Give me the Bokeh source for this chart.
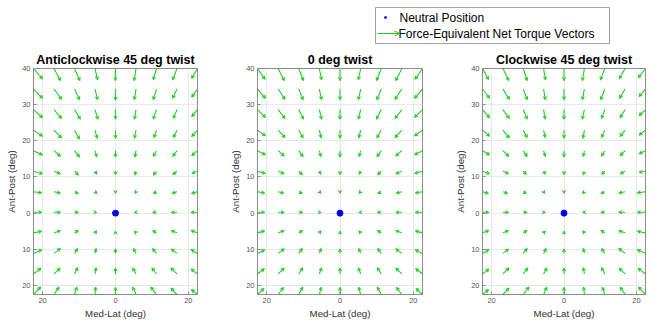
from bokeh.plotting import figure
from bokeh.models import (ColumnDataSource, Arrow, OpenHead, VeeHead, FixedTicker, Range1d, Title)
from bokeh.layouts import column, row
from bokeh.core.properties import value
from bokeh.embed import file_html
from bokeh.resources import INLINE

# ---------------- data ----------------
X_COLS = [-22.5, -16.875, -11.25, -5.625, 0.0, 5.625, 11.25, 16.875, 22.5]
Y_ROWS = [40.0, 34.32, 28.64, 22.95, 17.27, 11.59, 5.91, 0.23, -5.45, -11.14, -16.82, -22.5]

TITLES = ["Anticlockwise 45 deg twist", "0 deg twist", "Clockwise 45 deg twist"]

# vector components, rows top->bottom, cols left->right
U_ANTI = [
    [2.5, 1.8, 1.5, 0.7, 0, -0.5, -0.9, -1.2, -1.6],
    [2.5, 2.1, 1.4, 0.7, 0, -0.45, -0.9, -1.2, -1.6],
    [2.5, 2.1, 1.6, 0.8, 0, -0.4, -0.9, -1.0, -1.6],
    [2.5, 2.1, 1.4, 0.6, 0, -0.4, -0.7, -1.0, -1.6],
    [2.5, 1.8, 1.4, 0.5, 0, -0.3, -0.9, -1.2, -1.6],
    [2.5, 1.8, 1.1, 0.5, 0, -0.3, -0.9, -1.2, -1.6],
    [2.3, 1.8, 1.1, 0.6, 0, -0.3, -0.9, -1.4, -1.7],
    [2.3, 1.8, 1.1, 0.5, 0, -0.5, -1.1, -1.6, -1.8],
    [2.3, 1.8, 1.1, 0.45, 0, -0.5, -1.1, -1.6, -1.8],
    [2.3, 1.8, 0.9, 0.3, 0, -0.7, -1.1, -1.6, -1.8],
    [2.1, 1.7, 0.9, 0.3, 0, -0.9, -1.3, -1.7, -1.8],
    [2.0, 1.4, 0.65, 0.2, 0, -0.9, -1.6, -1.7, -1.7],
]
V_ANTI = [
    [-2.9, -3.4, -3.4, -3.2, -3.4, -3.4, -3.2, -3.2, -2.8],
    [-2.6, -2.9, -3.0, -3.0, -3.1, -3.0, -3.0, -2.6, -2.3],
    [-2.3, -2.5, -2.7, -2.7, -2.7, -2.7, -2.7, -2.5, -2.0],
    [-1.7, -2.2, -2.5, -2.3, -2.3, -2.3, -2.1, -2.1, -1.8],
    [-1.2, -1.6, -1.8, -1.8, -1.8, -1.8, -1.6, -1.6, -1.4],
    [-0.7, -0.7, -1.1, -0.9, -1.0, -1.1, -1.1, -0.9, -0.55],
    [-0.3, -0.35, -0.45, -0.5, -0.5, -0.5, -0.45, -0.45, -0.45],
    [0, 0, 0, 0, 0, 0, 0, 0, 0],
    [0.45, 0.6, 0.7, 0.6, 0.5, 0.5, 0.6, 0.65, 0.65],
    [1.0, 1.4, 1.4, 1.4, 1.3, 1.4, 1.4, 1.2, 1.1],
    [1.6, 1.6, 1.8, 1.8, 1.7, 1.7, 1.7, 1.7, 1.4],
    [2.1, 2.1, 2.1, 2.1, 2.0, 2.1, 2.1, 1.8, 1.4],
]
U_ZERO = [
    [2.1, 1.7, 1.3, 0.6, 0, -0.6, -1.3, -1.7, -2.1],
    [2.2, 1.9, 1.2, 0.6, 0, -0.6, -1.2, -1.9, -2.2],
    [2.2, 1.9, 1.3, 0.6, 0, -0.6, -1.3, -1.9, -2.2],
    [2.2, 1.9, 1.2, 0.5, 0, -0.5, -1.2, -1.9, -2.2],
    [2.2, 1.7, 1.2, 0.4, 0, -0.4, -1.2, -1.7, -2.2],
    [2.2, 1.7, 1.0, 0.4, 0, -0.4, -1.0, -1.7, -2.2],
    [2.0, 1.6, 1.0, 0.45, 0, -0.45, -1.0, -1.6, -2.0],
    [2.0, 1.7, 1.1, 0.5, 0, -0.5, -1.1, -1.7, -2.0],
    [2.0, 1.7, 1.1, 0.5, 0, -0.5, -1.1, -1.7, -2.0],
    [2.0, 1.7, 1.0, 0.5, 0, -0.5, -1.0, -1.7, -2.0],
    [1.9, 1.7, 1.1, 0.6, 0, -0.6, -1.1, -1.7, -1.9],
    [1.8, 1.5, 1.1, 0.55, 0, -0.55, -1.1, -1.5, -1.8],
]
V_ZERO = [
    [-3.0, -3.4, -3.4, -3.2, -3.4, -3.2, -3.4, -3.4, -3.0],
    [-2.6, -2.9, -3.0, -3.0, -3.0, -3.0, -3.0, -2.9, -2.6],
    [-2.2, -2.5, -2.7, -2.7, -2.7, -2.7, -2.7, -2.5, -2.2],
    [-1.6, -2.1, -2.2, -2.2, -2.3, -2.2, -2.2, -2.1, -1.6],
    [-1.1, -1.5, -1.7, -1.7, -1.8, -1.7, -1.7, -1.5, -1.1],
    [-0.6, -0.7, -1.0, -0.9, -1.0, -0.9, -1.0, -0.7, -0.6],
    [-0.35, -0.4, -0.45, -0.5, -0.5, -0.5, -0.45, -0.4, -0.35],
    [0, 0, 0, 0, 0, 0, 0, 0, 0],
    [0.55, 0.6, 0.65, 0.55, 0.5, 0.55, 0.65, 0.6, 0.55],
    [1.0, 1.3, 1.4, 1.4, 1.3, 1.4, 1.4, 1.3, 1.0],
    [1.5, 1.65, 1.75, 1.75, 1.7, 1.75, 1.75, 1.65, 1.5],
    [1.7, 2.0, 2.1, 2.1, 2.0, 2.1, 2.1, 2.0, 1.7],
]
U_CLOCK = [
    [1.7, 1.65, 1.1, 0.5, 0, -0.55, -1.2, -1.65, -2.0],
    [2.0, 1.8, 1.1, 0.45, 0, -0.55, -1.1, -1.55, -1.8],
    [2.0, 1.8, 1.1, 0.45, 0, -0.55, -0.9, -1.4, -1.8],
    [2.0, 1.8, 1.1, 0.45, 0, -0.4, -0.9, -1.4, -1.8],
    [2.0, 1.65, 1.1, 0.45, 0, -0.3, -0.9, -1.4, -1.8],
    [2.0, 1.65, 0.9, 0.45, 0, -0.3, -0.9, -1.4, -1.8],
    [1.7, 1.4, 0.9, 0.3, 0, -0.6, -1.1, -1.8, -2.3],
    [1.8, 1.6, 1.1, 0.5, 0, -0.5, -1.1, -1.8, -2.3],
    [1.8, 1.6, 1.1, 0.5, 0, -0.45, -1.1, -1.8, -2.3],
    [1.8, 1.6, 1.1, 0.7, 0, -0.3, -0.9, -1.8, -2.3],
    [1.8, 1.7, 1.3, 0.9, 0, -0.3, -0.9, -1.7, -2.1],
    [1.7, 1.7, 1.6, 0.9, 0, -0.2, -0.65, -1.4, -2.0],
]
V_CLOCK = [
    [-3.1, -3.4, -3.4, -3.2, -3.4, -3.4, -3.2, -2.9, -2.6],
    [-2.6, -2.9, -3.0, -3.0, -3.0, -3.0, -3.0, -2.6, -2.1],
    [-2.3, -2.5, -2.7, -2.7, -2.7, -2.7, -2.5, -2.3, -1.7],
    [-1.7, -2.2, -2.1, -2.1, -2.3, -2.3, -2.1, -1.8, -1.4],
    [-1.2, -1.6, -1.65, -1.65, -1.8, -1.65, -1.55, -1.4, -0.9],
    [-0.7, -0.7, -0.9, -0.9, -1.0, -1.1, -0.9, -0.7, -0.3],
    [-0.45, -0.45, -0.45, -0.5, -0.5, -0.5, -0.45, -0.35, -0.3],
    [0, 0, 0, 0, 0, 0, 0, 0, 0],
    [0.65, 0.65, 0.6, 0.5, 0.5, 0.6, 0.7, 0.6, 0.45],
    [1.1, 1.2, 1.4, 1.4, 1.3, 1.4, 1.4, 1.4, 1.0],
    [1.4, 1.7, 1.7, 1.7, 1.7, 1.8, 1.8, 1.6, 1.6],
    [1.4, 1.8, 2.1, 2.1, 2.0, 2.1, 2.1, 2.1, 2.1],
]

NEUTRAL_X = [0.0]
NEUTRAL_Y = [0.0]

X_TICKS = [-20, 0, 20]
X_TICK_LABELS = ["20", "0", "20"]
Y_TICKS = [-20, -10, 0, 10, 20, 30, 40]
Y_TICK_LABELS = ["20", "10", "0", "10", "20", "30", "40"]

LEGEND_LABELS = ["Neutral Position", "Force-Equivalent Net Torque Vectors"]

FIELDS = [(U_ANTI, V_ANTI), (U_ZERO, V_ZERO), (U_CLOCK, V_CLOCK)]

# ---------------- style ----------------
GREEN = "#1fcf1f"
BLUE = "#0000ff"
FONT = "Liberation Sans"
AXIS_GRAY = "#8c8c8c"
TICK_GRAY = "#555555"

widths = [227, 225, 200]
borders = [(33, 30), (30, 30), (30, 7)]


def make_panel(i):
    w = widths[i]
    bl, br = borders[i]
    p = figure(width=w, height=277, output_backend="svg", toolbar_location=None,
               x_range=Range1d(-22.5, 22.5), y_range=Range1d(-22.5, 40),
               min_border_left=bl, min_border_right=br, min_border_top=22,
               min_border_bottom=29, title=None)
    p.add_layout(Title(text=TITLES[i], text_font=FONT, text_font_size="12.5px",
                       text_font_style="bold", text_color="#000000", align="center",
                       standoff=3), "above")
    U, V = FIELDS[i]
    x0, y0, x1, y1 = [], [], [], []
    for r, yy in enumerate(Y_ROWS):
        for c, xx in enumerate(X_COLS):
            u, v = U[r][c], V[r][c]
            if u == 0 and v == 0:
                continue
            x0.append(xx)
            y0.append(yy)
            x1.append(xx + u)
            y1.append(yy + v)
    src = ColumnDataSource(dict(x0=x0, y0=y0, x1=x1, y1=y1))
    p.add_layout(Arrow(source=src, x_start="x0", y_start="y0", x_end="x1", y_end="y1",
                       line_color=GREEN, line_width=1.1,
                       end=VeeHead(size=3.2, line_color=GREEN, line_width=0.8,
                                   fill_color=GREEN)))
    p.scatter(NEUTRAL_X, NEUTRAL_Y, size=6, color=BLUE)

    p.xaxis.ticker = FixedTicker(ticks=X_TICKS)
    p.xaxis.major_label_overrides = dict(zip(X_TICKS, X_TICK_LABELS))
    p.yaxis.ticker = FixedTicker(ticks=Y_TICKS)
    p.yaxis.major_label_overrides = dict(zip(Y_TICKS, Y_TICK_LABELS))
    p.xaxis.axis_label = "Med-Lat (deg)"
    p.yaxis.axis_label = "Ant-Post (deg)"
    for ax in (p.xaxis, p.yaxis):
        ax.axis_label_text_font = FONT
        ax.axis_label_text_font_size = "9.7px"
        ax.axis_label_text_font_style = "normal"
        ax.axis_label_text_color = "#333333"
        ax.major_label_text_font = FONT
        ax.major_label_text_font_size = "7.5px"
        ax.major_label_text_color = TICK_GRAY
        ax.axis_line_color = AXIS_GRAY
        ax.major_tick_line_color = AXIS_GRAY
        ax.major_tick_in = 3
        ax.major_tick_out = 0
        ax.minor_tick_line_color = None
        ax.major_label_standoff = 3
        ax.axis_label_standoff = 2
    p.grid.grid_line_color = "#e8e8e8"
    p.grid.grid_line_width = 1
    p.outline_line_color = AXIS_GRAY
    p.background_fill_color = "white"
    p.border_fill_color = "white"
    return p


panels = [make_panel(i) for i in range(3)]

# legend strip
leg = figure(width=652, height=46, output_backend="svg", toolbar_location=None,
             x_range=Range1d(0, 652), y_range=Range1d(46, 0),
             min_border=0, min_border_left=0, min_border_right=0,
             min_border_top=0, min_border_bottom=0)
leg.axis.visible = False
leg.grid.visible = False
leg.outline_line_color = None
leg.quad(left=[375], right=[609], top=[7], bottom=[43], fill_color="white",
         line_color="#a0a0a0", line_width=1)
leg.scatter([385], [17], size=2, color=BLUE)
leg.add_layout(Arrow(x_start=377, y_start=33, x_end=399, y_end=33,
                     line_color=GREEN, line_width=1,
                     end=OpenHead(size=5, line_color=GREEN, line_width=1)))
leg.text(x=[399, 398], y=[17, 33], text=LEGEND_LABELS,
         text_font=value(FONT), text_font_size="12px", text_baseline="middle",
         text_align="left", text_color="#000000")

layout = column(leg, row(*panels, spacing=0), spacing=0)
open("out.html", "w").write(file_html(layout, INLINE))
